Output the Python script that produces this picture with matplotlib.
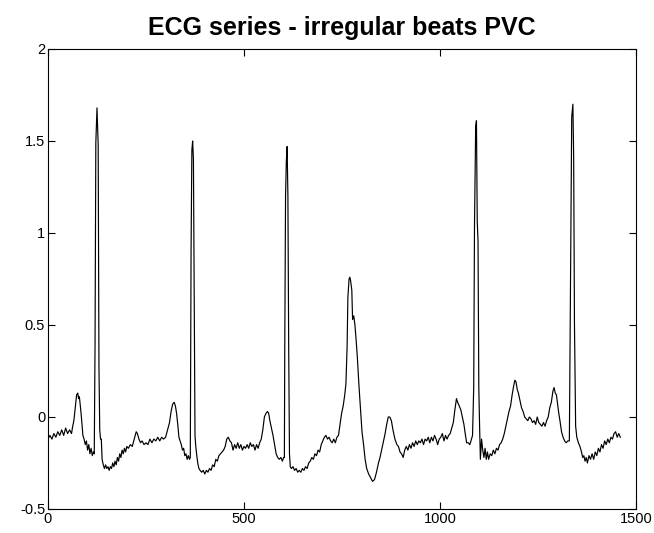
import matplotlib
matplotlib.use("Agg")
import matplotlib.pyplot as plt

# sample index and ECG amplitude
sample_idx = [
    0, 5, 10, 15, 20, 25, 30, 35, 40, 45, 50, 55, 60, 63, 66, 70, 73, 76, 78, 80,
    83, 86, 89, 92, 95, 98, 101, 104, 107, 110, 113, 116,
    118, 120, 122, 125, 128, 130, 132, 134, 136, 138, 141, 144, 147, 150, 153, 156,
    159, 162, 165, 168, 171, 174, 177, 180, 183, 186, 189, 192, 195, 198, 201, 205,
    210, 215, 220, 225, 228, 232, 236, 240, 245, 250, 255, 260, 265, 270, 275, 280,
    285, 290, 295, 300, 305, 310, 314, 318, 322, 325, 328, 331, 334, 337, 340, 343,
    346, 349, 352, 355, 358, 361,
    363, 365, 367, 369, 371, 373, 375, 377, 379, 382, 385, 388, 392, 396, 400, 404,
    408, 412, 416, 420, 424, 428, 432, 436, 440, 444, 448, 452, 456, 460, 464, 468,
    472, 476, 480, 484, 488, 492, 496, 500, 504, 508, 512, 516, 520, 524, 528, 532,
    536, 540, 544, 548, 552, 556, 560, 563, 566, 570, 574, 578, 582, 586, 590, 594,
    598, 601,
    603, 604, 606, 608, 610, 612, 614, 616, 618, 621, 625, 629, 633, 637, 641, 645,
    649, 653, 657, 661, 665, 669, 673, 677, 681, 685, 689, 693, 697, 701, 705, 709,
    713, 717, 721, 725, 729, 733, 737, 741, 745, 749, 753, 757, 760, 763, 765, 768,
    770, 772, 775, 777, 780, 783, 786, 789, 793, 797, 801, 805, 809, 813, 818, 823,
    828, 833, 838, 843, 847, 851, 856, 860, 864, 868, 872, 876, 880, 885, 890, 894,
    898, 902, 906, 910, 914, 918, 922, 926, 930, 934, 938, 942, 946, 950, 954, 958,
    962, 966, 970, 974, 978, 982, 986, 990, 994, 998, 1002, 1006, 1010, 1014, 1018, 1022,
    1026, 1030, 1034, 1038, 1042, 1045, 1049, 1053, 1057, 1061, 1065, 1068, 1072, 1076, 1079, 1083,
    1086, 1088, 1091, 1093, 1095, 1097, 1099, 1101, 1103, 1106, 1109, 1112, 1115, 1118, 1121, 1124,
    1128, 1132, 1136, 1140, 1144, 1148, 1152, 1156, 1160, 1164, 1168, 1172, 1176, 1180, 1184, 1188,
    1191, 1194, 1197, 1200, 1204, 1208, 1212, 1216, 1220, 1224, 1228, 1232, 1236, 1240, 1244, 1248,
    1252, 1256, 1260, 1264, 1268, 1272, 1276, 1280, 1284, 1288, 1291, 1294, 1297, 1300, 1303, 1306,
    1310, 1314, 1318, 1322, 1326, 1330,
    1333, 1336, 1339, 1341, 1343, 1346, 1349, 1353, 1357, 1361, 1364, 1367, 1370, 1373, 1376, 1380,
    1384, 1388, 1392, 1396, 1400, 1404, 1408, 1412, 1416, 1420, 1424, 1428, 1432, 1436, 1440, 1444,
    1448, 1452, 1456, 1460,
]
ecg_value = [
    -0.12, -0.10, -0.12, -0.09, -0.11, -0.08, -0.10, -0.07, -0.10, -0.06, -0.09, -0.07, -0.09, -0.05, -0.02, 0.06, 0.12, 0.13, 0.10, 0.11,
    0.05, -0.02, -0.10, -0.12, -0.15, -0.13, -0.18, -0.15, -0.20, -0.17, -0.21, -0.19,
    -0.20, 0.39, 1.49, 1.68, 1.48, 0.27, -0.07, -0.12, -0.12, -0.23, -0.26, -0.28, -0.26, -0.28, -0.27, -0.29,
    -0.27, -0.28, -0.25, -0.27, -0.24, -0.26, -0.22, -0.24, -0.20, -0.22, -0.18, -0.20, -0.17, -0.19, -0.16, -0.17,
    -0.15, -0.16, -0.12, -0.08, -0.09, -0.12, -0.14, -0.13, -0.15, -0.14, -0.15, -0.12, -0.14, -0.12, -0.13, -0.11,
    -0.13, -0.11, -0.12, -0.11, -0.07, -0.03, 0.03, 0.07, 0.08, 0.06, 0.02, -0.04, -0.11, -0.13, -0.15, -0.18,
    -0.17, -0.21, -0.20, -0.23, -0.21, -0.23,
    -0.22, 0.91, 1.45, 1.50, 1.40, 0.66, -0.10, -0.16, -0.20, -0.25, -0.28, -0.29, -0.30, -0.29, -0.31, -0.29,
    -0.30, -0.28, -0.29, -0.26, -0.27, -0.23, -0.24, -0.21, -0.20, -0.19, -0.18, -0.16, -0.12, -0.11, -0.13, -0.14,
    -0.18, -0.15, -0.17, -0.14, -0.17, -0.15, -0.18, -0.16, -0.17, -0.15, -0.17, -0.14, -0.16, -0.15, -0.18, -0.15,
    -0.17, -0.14, -0.12, -0.07, 0.00, 0.02, 0.03, 0.02, -0.02, -0.06, -0.10, -0.15, -0.20, -0.22, -0.23, -0.22,
    -0.24, -0.22,
    -0.22, 0.38, 1.20, 1.39, 1.47, 1.20, 0.38, -0.20, -0.27, -0.28, -0.27, -0.29, -0.28, -0.30, -0.29, -0.30,
    -0.28, -0.29, -0.27, -0.28, -0.25, -0.24, -0.22, -0.23, -0.20, -0.21, -0.18, -0.19, -0.15, -0.13, -0.11, -0.10,
    -0.12, -0.11, -0.13, -0.14, -0.12, -0.14, -0.11, -0.10, -0.04, 0.02, 0.06, 0.12, 0.18, 0.38, 0.65, 0.75,
    0.76, 0.74, 0.69, 0.53, 0.55, 0.50, 0.42, 0.33, 0.18, 0.05, -0.08, -0.15, -0.23, -0.28, -0.31, -0.33,
    -0.35, -0.34, -0.30, -0.25, -0.22, -0.18, -0.13, -0.09, -0.04, 0.00, 0.00, -0.02, -0.07, -0.12, -0.15, -0.16,
    -0.19, -0.20, -0.22, -0.18, -0.16, -0.18, -0.15, -0.17, -0.14, -0.16, -0.13, -0.15, -0.13, -0.14, -0.12, -0.15,
    -0.12, -0.13, -0.11, -0.14, -0.11, -0.13, -0.10, -0.12, -0.15, -0.12, -0.11, -0.09, -0.13, -0.10, -0.12, -0.10,
    -0.09, -0.06, -0.03, 0.04, 0.10, 0.08, 0.06, 0.04, 0.00, -0.04, -0.10, -0.14, -0.14, -0.15, -0.13, -0.10,
    0.16, 1.04, 1.58, 1.61, 1.06, 0.96, 0.16, -0.05, -0.23, -0.12, -0.18, -0.22, -0.17, -0.23, -0.19, -0.23,
    -0.20, -0.21, -0.18, -0.20, -0.17, -0.18, -0.15, -0.14, -0.12, -0.09, -0.05, -0.01, 0.03, 0.06, 0.12, 0.17,
    0.20, 0.19, 0.15, 0.13, 0.09, 0.05, 0.03, 0.00, -0.01, -0.02, 0.00, -0.01, -0.03, -0.02, -0.04, 0.00,
    -0.03, -0.04, -0.05, -0.03, -0.05, -0.02, 0.00, 0.05, 0.08, 0.14, 0.16, 0.13, 0.12, 0.07, 0.02, -0.02,
    -0.08, -0.11, -0.13, -0.14, -0.13, -0.13,
    0.76, 1.63, 1.70, 1.41, 0.51, -0.05, -0.11, -0.14, -0.16, -0.19, -0.22, -0.21, -0.24, -0.22, -0.25, -0.21,
    -0.23, -0.20, -0.23, -0.19, -0.21, -0.17, -0.19, -0.15, -0.17, -0.13, -0.15, -0.12, -0.14, -0.11, -0.12, -0.09,
    -0.08, -0.11, -0.09, -0.11,
]

x_ticks = [0, 500, 1000, 1500]
y_ticks = [-0.5, 0, 0.5, 1, 1.5, 2]
y_tick_labels = ["-0.5", "0", "0.5", "1", "1.5", "2"]
title_text = "ECG series - irregular beats PVC"

plt.rcParams["font.family"] = ["Liberation Sans", "DejaVu Sans"]

fig = plt.figure(figsize=(6.54, 5.33), dpi=100, facecolor="white")
ax = fig.add_axes([48 / 654, 24 / 533, 588 / 654, 460 / 533])
ax.plot(sample_idx, ecg_value, color="black", linewidth=0.85)

ax.set_xlim(0, 1500)
ax.set_ylim(-0.5, 2)
ax.set_xticks(x_ticks)
ax.set_xticklabels([str(t) for t in x_ticks])
ax.set_yticks(y_ticks)
ax.set_yticklabels(y_tick_labels)
ax.tick_params(direction="in", length=5, width=0.8, top=True, right=True,
               labelsize=10.5, pad=2, colors="black")
for s in ax.spines.values():
    s.set_linewidth(0.8)
    s.set_color("black")

ax.set_title(title_text, fontsize=18, fontweight="bold", pad=10)

fig.savefig("out.png", dpi=100, facecolor="white")
